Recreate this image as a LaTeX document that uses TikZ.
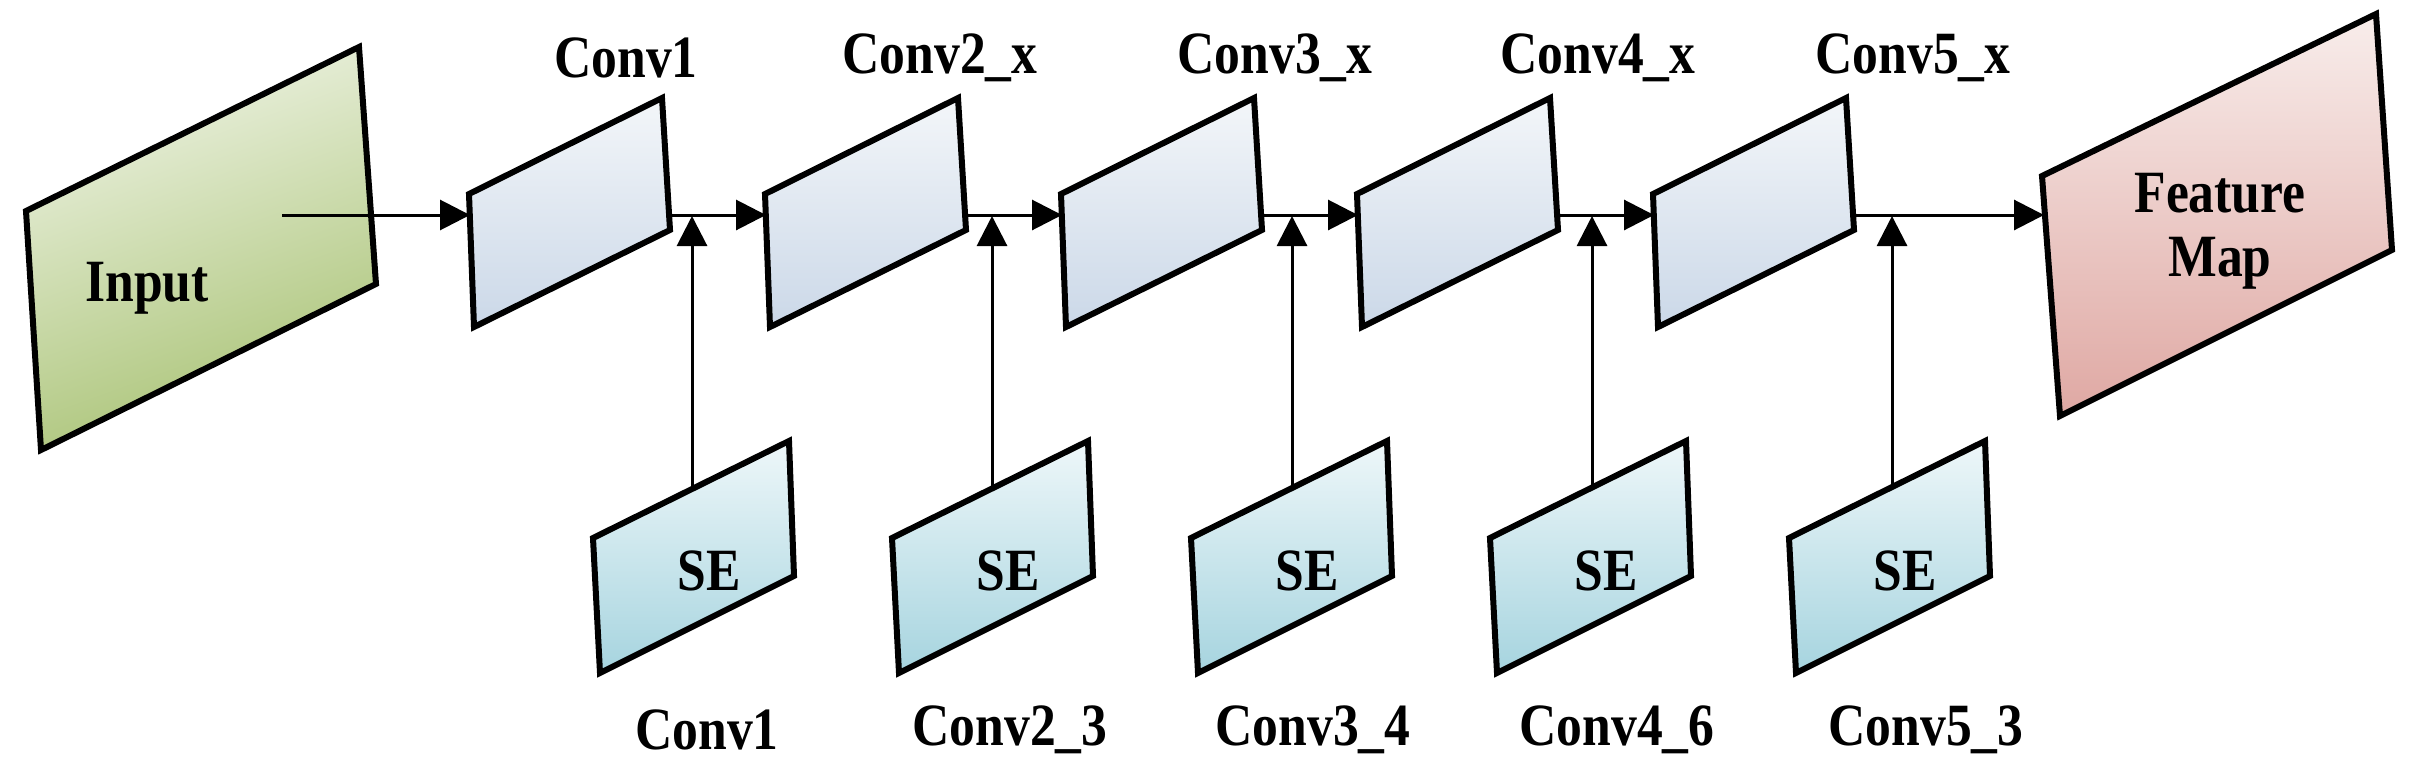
\documentclass[tikz,border=0pt]{standalone}
\usepackage{fontspec}
\setmainfont{Liberation Serif}
\newfontfamily\lblfont[FakeStretch=0.86]{Liberation Serif}
\usetikzlibrary{arrows.meta}
\definecolor{gA}{HTML}{EEF3E4}\definecolor{gB}{HTML}{A8C273}
\definecolor{cA}{HTML}{F3F6F9}\definecolor{cB}{HTML}{CBD8E8}
\definecolor{sA}{HTML}{EEF7F9}\definecolor{sB}{HTML}{A6D4DF}
\definecolor{fA}{HTML}{F8EDEB}\definecolor{fB}{HTML}{DFA8A3}
\tikzset{
  blk/.style={draw=black,line width=6pt,line join=miter},
  lbl/.style={font=\lblfont\fontsize{60}{64}\selectfont\bfseries,inner sep=0pt},
  arr/.style={line width=3pt,-{Triangle[length=30pt,width=30pt]}}
}
\begin{document}
\begin{tikzpicture}[x=1pt,y=-1pt]
\useasboundingbox (0,0) rectangle (2433,779);
% Input
\shade[blk,top color=gA,bottom color=gB,shading angle=20] (26,211) -- (359,47) -- (376,284) -- (41,450) -- cycle;
\node[lbl] (input) at (147,288) {Input};
\coordinate (inS) at (282,215);
% Conv blocks
\foreach \k in {0,...,4}{
  \pgfmathsetmacro{\dx}{296*\k}
  \begin{scope}[xshift=\dx]
    \shade[blk,top color=cA,bottom color=cB] (469,194) -- (662,98) -- (670,230) -- (474,327) -- cycle;
    \coordinate (cin\k) at (470,215);
    \coordinate (cout\k) at (668,215);
  \end{scope}
}
\foreach \k/\t/\x in {0/Conv1/626,1/Conv2\_x/940,2/Conv3\_x/1275,3/Conv4\_x/1598,4/Conv5\_x/1913}{
  \node[lbl] (ct\k) at (\x,58) {\t};
}
% SE blocks
\foreach \k/\t/\x in {0/Conv1/707,1/Conv2\_3/1010,2/Conv3\_4/1313,3/Conv4\_6/1617,4/Conv5\_3/1926}{
  \pgfmathsetmacro{\dx}{299*\k}
  \begin{scope}[xshift=\dx]
    \shade[blk,top color=sA,bottom color=sB] (593,538) -- (789,441) -- (794,576) -- (600,673) -- cycle;
    \node[lbl] (se\k) at (709,571) {SE};
  \end{scope}
  \node[lbl] (cb\k) at (\x,730) {\t};
  \pgfmathsetmacro{\vx}{692+300*\k}
  \pgfmathsetmacro{\vy}{538-(\vx-593-299*\k)*97/196}
  \coordinate (vs\k) at (\vx,\vy);
  \coordinate (ve\k) at (\vx,216);
  \draw[arr] (vs\k) -- (ve\k);
}
% Feature map
\shade[blk,top color=fA,bottom color=fB] (2042,176) -- (2376,14) -- (2392,250) -- (2060,416) -- cycle;
\node[lbl,align=center] (fm) at (2220,231) {Feature\\Map};
\coordinate (fmin) at (2044,215);
% horizontal arrows
\draw[arr] (inS) -- (cin0);
\draw[arr] (cout0) -- (cin1);
\draw[arr] (cout1) -- (cin2);
\draw[arr] (cout2) -- (cin3);
\draw[arr] (cout3) -- (cin4);
\draw[arr] (cout4) -- (fmin);
\end{tikzpicture}
\end{document}
